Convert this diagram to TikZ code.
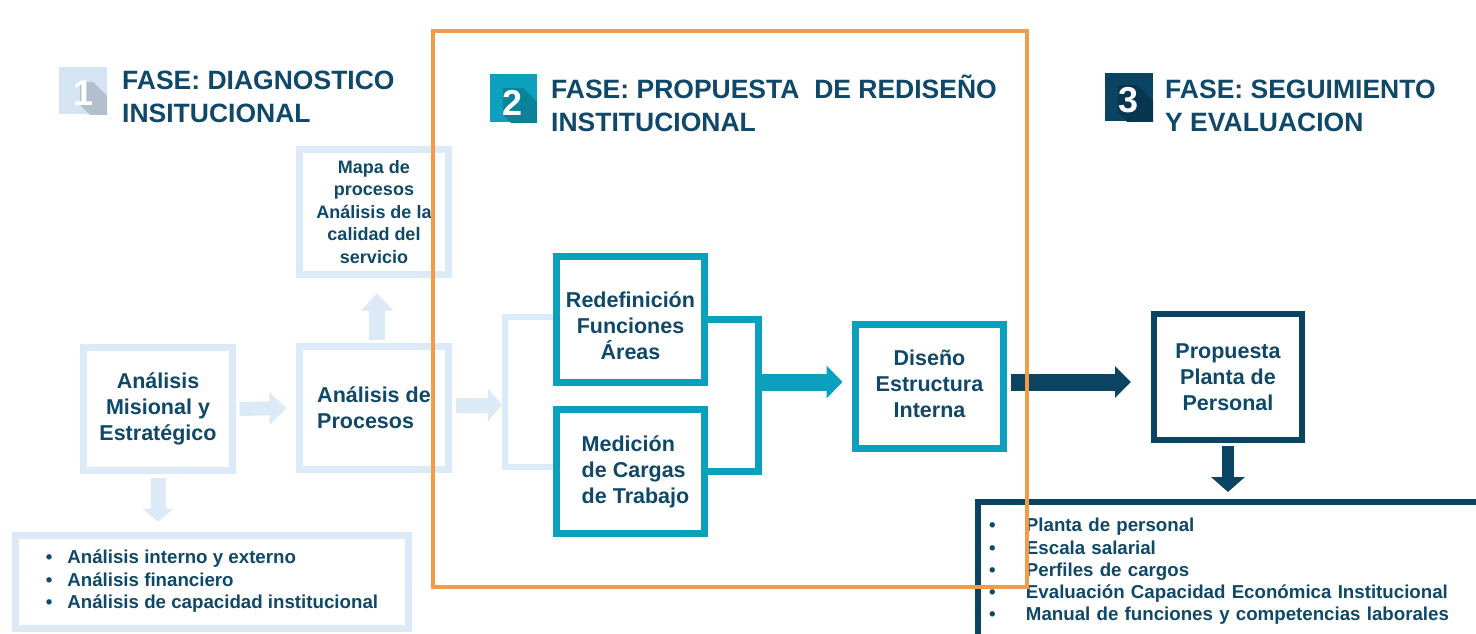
\documentclass[tikz,border=0pt]{standalone}
\usepackage{fontspec}
\setmainfont{Liberation Sans}
\usetikzlibrary{arrows.meta}
\definecolor{txt}{HTML}{0F4868}
\definecolor{lite}{HTML}{DCE9F7}
\definecolor{tealc}{HTML}{0AA0BE}
\definecolor{tealsh}{HTML}{0A8399}
\definecolor{navy}{HTML}{0B4462}
\definecolor{navysh}{HTML}{083550}
\definecolor{icon1}{HTML}{D5E4F3}
\definecolor{icon1sh}{HTML}{B3BFCC}
\definecolor{orng}{HTML}{F39B48}
\tikzset{
  litebox/.style={draw=lite, line width=7pt, fill=white, text=txt, align=center, inner sep=0pt,
    font=\bfseries\fontsize{21.5}{26}\selectfont},
  tealbox/.style={litebox, draw=tealc},
  navybox/.style={litebox, draw=navy, line width=6pt},
  ttl/.style={anchor=base west, align=left, inner sep=0pt, text=txt, font=\bfseries\fontsize{26.5}{32.5}\selectfont},
  num/.style={anchor=base, inner sep=0pt, text=white, font=\bfseries\fontsize{36}{36}\selectfont},
  lline/.style={draw=lite, line width=6pt},
  tline/.style={draw=tealc, line width=7pt},
}
\begin{document}
\begin{tikzpicture}[x=1pt, y=-1pt]
\useasboundingbox (0,0) rectangle (1476,634);
\fill[white] (0,0) rectangle (1476,634);

% ---- icons
\begin{scope}
  \clip (59,67) rectangle (107,114);
  \fill[icon1] (59,67) rectangle (107,114);
  \fill[icon1sh] (80,82) -- (93,82) -- (143,132) -- (143,155) -- (130,155) -- (80,105) -- cycle;
\end{scope}
\node[num] (n1) at (84,106) {1};
\begin{scope}
  \clip (490,74) rectangle (537,122);
  \fill[tealc] (490,74) rectangle (537,122);
  \fill[tealsh] (503,88) -- (523,88) -- (573,138) -- (573,165) -- (553,165) -- (503,115) -- cycle;
\end{scope}
\node[num] (n2) at (513,115) {2};
\begin{scope}
  \clip (1105,73) rectangle (1153,121);
  \fill[navy] (1105,73) rectangle (1153,121);
  \fill[navysh] (1118,85) -- (1137,85) -- (1187,135) -- (1187,163) -- (1168,163) -- (1118,113) -- cycle;
\end{scope}
\node[num] (n3) at (1128,113) {3};

% ---- titles (anchor = baseline of the last line)
\node[ttl] (t1) at (122,122) {FASE: DIAGNOSTICO\\INSITUCIONAL};
\node[ttl] (t2) at (551,131) {FASE: PROPUESTA\ \ DE REDISEÑO\\INSTITUCIONAL};
\node[ttl] (t3) at (1165,131) {FASE: SEGUIMIENTO\\Y EVALUACION};

% ---- phase 1
\node[litebox, minimum width=149pt, minimum height=123pt] (mis) at (158,409) {Análisis\\Misional y\\Estratégico};
\node[litebox, minimum width=149pt, minimum height=123pt, align=left] (proc) at (374,408) {Análisis de\\Procesos};
\node[litebox, minimum width=149pt, minimum height=125pt, font=\bfseries\fontsize{18}{22.5}\selectfont] (mapa) at (374,212) {Mapa de\\procesos\\Análisis de la\\calidad del\\servicio};
\node[litebox, minimum width=393pt, minimum height=93pt, align=left, font=\bfseries\fontsize{18.7}{22.5}\selectfont] (lbul) at (212,581.5)
  {\makebox[21.5pt][l]{•}Análisis interno y externo\\\makebox[21.5pt][l]{•}Análisis financiero\\\makebox[21.5pt][l]{•}Análisis de capacidad institucional};

\draw[draw=lite, line width=14pt, -{Triangle[length=17pt,width=32pt]}, shorten <=3.5pt, shorten >=9.5pt] (mis.east) -- (proc.west);
\draw[draw=lite, line width=15pt, -{Triangle[length=13pt,width=31pt]}, shorten <=3.5pt, shorten >=10pt] (mis.south) -- (mis.south |- lbul.north);
\draw[draw=lite, line width=16pt, -{Triangle[length=17pt,width=31pt]}, shorten <=3.5pt, shorten >=15.5pt] ([xshift=3pt]proc.north) -- ([xshift=3pt]mapa.south);

% ---- phase 2
\node[tealbox, minimum width=148pt, minimum height=126pt] (red) at (630.5,319.5) {\rule{0pt}{28pt}Redefinición\\Funciones\\Áreas};
\node[tealbox, minimum width=148pt, minimum height=124pt, align=left] (med) at (630.5,471.5) {\hspace*{10pt}Medición\\\hspace*{10pt}de Cargas\\\hspace*{10pt}de Trabajo};
\node[tealbox, minimum width=148pt, minimum height=124pt] (dis) at (929.5,386.5) {Diseño\\Estructura\\Interna\rule[-6pt]{0pt}{6pt}};

\coordinate (split) at (505,405);
\draw[lline] ([yshift=3pt]red.west) -- ([yshift=3pt]red.west -| split) -- ([yshift=5pt]med.west -| split) -- ([yshift=5pt]med.west);
\draw[draw=lite, line width=15pt, -{Triangle[length=14pt,width=32pt]}, shorten <=3.5pt, shorten >=3pt] (proc.east |- split) -- (split);

\coordinate (join) at (758,382);
\draw[tline] (red.east) -- (red.east -| join) -- (med.east -| join) -- (med.east);
\draw[draw=tealc, line width=17pt, -{Triangle[length=16pt,width=32pt]}, shorten >=9.5pt] (join) -- (dis.west |- join);

% ---- phase 3
\node[navybox, minimum width=148pt, minimum height=126pt] (prop) at (1228,377) {Propuesta\\Planta de\\Personal};
\node[navybox, minimum width=520pt, minimum height=139pt, text width=498pt, align=left, font=\bfseries\fontsize{18.7}{22.3}\selectfont] (rbul) at (1238,571.5)
  {\makebox[37pt][l]{•}Planta de personal\\\makebox[37pt][l]{•}Escala salarial\\\makebox[37pt][l]{•}Perfiles de cargos\\\makebox[37pt][l]{•}Evaluación Capacidad Económica Institucional\\\makebox[37pt][l]{•}Manual de funciones y competencias laborales};

\draw[draw=navy, line width=17pt, -{Triangle[length=16pt,width=31pt]}, shorten <=3.5pt, shorten >=20pt] (dis.east |- join) -- (prop.west |- join);
\draw[draw=navy, line width=12pt, -{Triangle[length=15pt,width=33pt]}, shorten <=3pt, shorten >=7pt] (prop.south) -- (prop.south |- rbul.north);

% ---- highlight frame
\draw[orng, line width=4pt] (433,31) rectangle (1027,587);
\end{tikzpicture}
\end{document}
